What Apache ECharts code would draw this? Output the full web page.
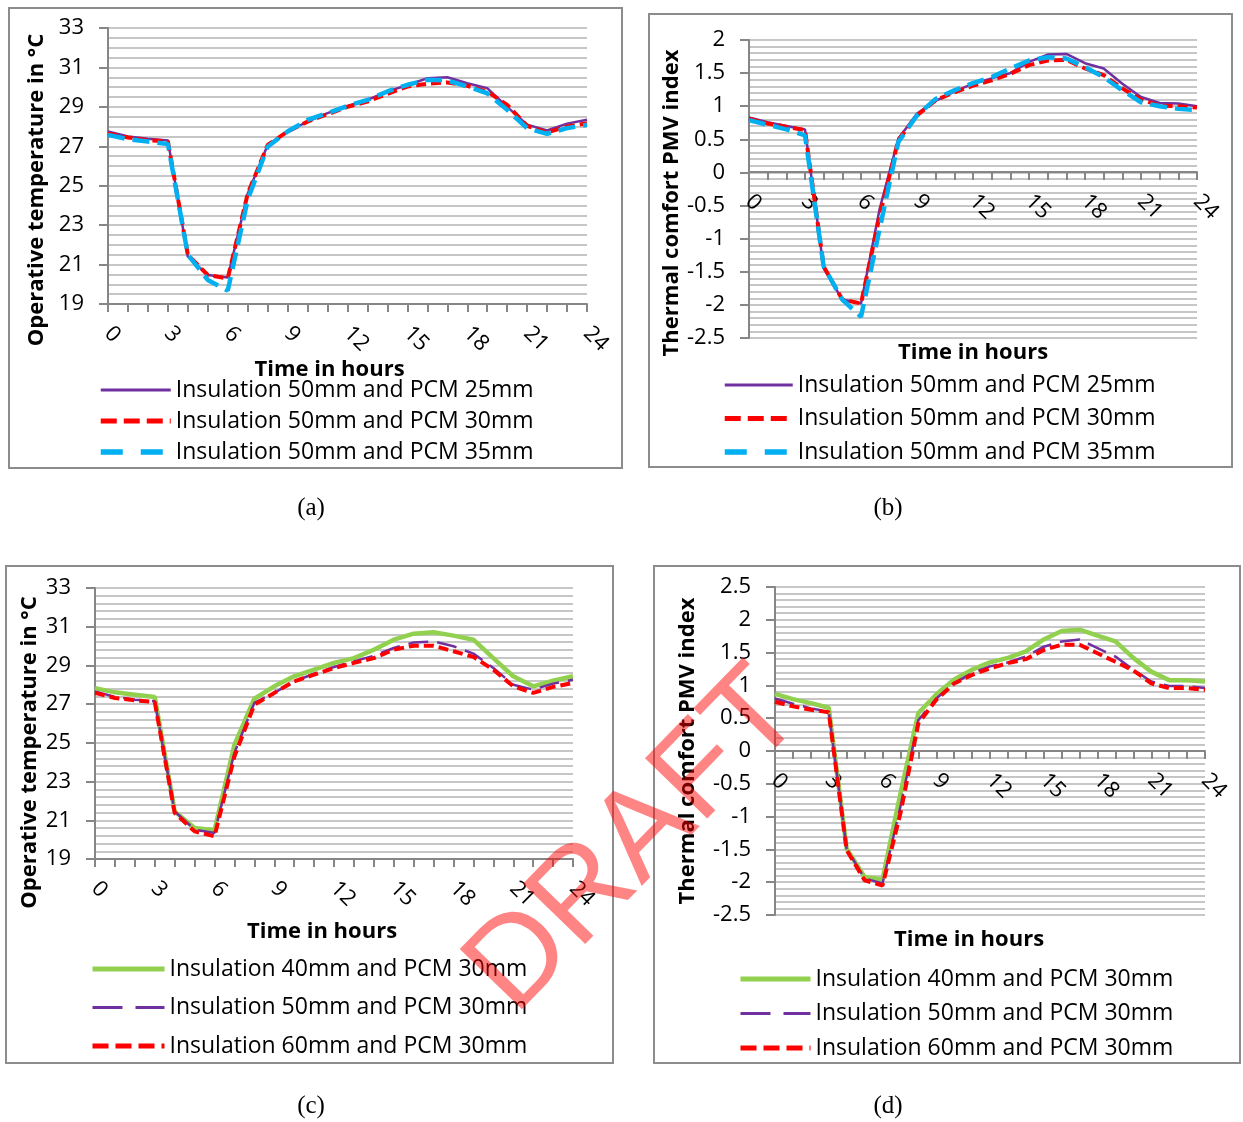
<!DOCTYPE html>
<html lang="en">
<head>
<meta charset="UTF-8">
<title>Operative temperature and PMV</title>
<script src="https://cdn.jsdelivr.net/npm/echarts@6/dist/echarts.min.js"></script>
<style>html,body{margin:0;background:#fff}</style>
</head>
<body>
<div id="main" style="width:1243px;height:1122px"></div>
<script>
// hours of the day
var hours = ['0','1','2','3','4','5','6','7','8','9','10','11','12','13','14','15','16','17','18','19','20','21','22','23','24']

// (a) operative temperature, insulation 50mm, PCM 25/30/35mm
var tempA25 = [27.75,27.5,27.38,27.3,21.4,20.47,20.35,24.6,27.07,27.75,28.25,28.68,29.05,29.35,29.78,30.1,30.45,30.5,30.2,29.95,29.0,28.1,27.8,28.15,28.35]
var tempA30 = [27.65,27.45,27.3,27.25,21.5,20.47,20.3,24.6,27.07,27.75,28.25,28.63,29.0,29.27,29.66,30.03,30.17,30.24,30.07,29.78,29.1,28.04,27.7,28.0,28.17]
var tempA35 = [27.58,27.36,27.24,27.12,21.5,20.22,19.68,24.3,26.98,27.75,28.34,28.68,29.05,29.35,29.78,30.12,30.37,30.34,30.03,29.69,28.85,27.92,27.63,27.92,28.09]

// (b) PMV, insulation 50mm, PCM 25/30/35mm
var pmvB25 = [0.83,0.76,0.70,0.65,-1.45,-1.92,-1.98,-0.55,0.51,0.89,1.08,1.22,1.34,1.42,1.50,1.67,1.78,1.79,1.65,1.57,1.34,1.14,1.05,1.04,1.0]
var pmvB30 = [0.81,0.74,0.69,0.64,-1.42,-1.92,-1.98,-0.65,0.49,0.86,1.09,1.21,1.31,1.39,1.49,1.62,1.69,1.70,1.57,1.47,1.27,1.10,1.01,1.00,0.98]
var pmvB35 = [0.79,0.72,0.65,0.56,-1.42,-1.92,-2.18,-0.85,0.46,0.86,1.11,1.24,1.35,1.44,1.57,1.69,1.74,1.72,1.59,1.44,1.24,1.06,1.00,0.96,0.94]

// (c) operative temperature, insulation 40/50/60mm, PCM 30mm
var tempC40 = [27.83,27.61,27.49,27.37,21.46,20.6,20.48,24.9,27.28,27.92,28.44,28.78,29.13,29.38,29.81,30.33,30.64,30.71,30.54,30.33,29.38,28.44,27.92,28.21,28.44]
var tempC50 = [27.66,27.37,27.23,27.15,21.46,20.52,20.34,24.48,27.06,27.58,28.18,28.57,28.92,29.21,29.5,29.9,30.19,30.24,29.99,29.61,28.87,28.0,27.75,28.06,28.26]
var tempC60 = [27.58,27.32,27.2,27.11,21.38,20.43,20.17,24.3,26.97,27.58,28.18,28.52,28.87,29.13,29.38,29.81,30.02,30.02,29.73,29.44,28.78,27.92,27.58,27.89,28.1]

// (d) PMV, insulation 40/50/60mm, PCM 30mm
var pmvD40 = [0.87,0.79,0.73,0.66,-1.49,-1.92,-1.96,-0.65,0.58,0.86,1.09,1.24,1.35,1.42,1.52,1.70,1.83,1.85,1.76,1.67,1.42,1.21,1.08,1.08,1.06]
var pmvD50 = [0.80,0.72,0.65,0.60,-1.49,-1.94,-2.02,-0.85,0.47,0.80,1.03,1.19,1.29,1.35,1.44,1.59,1.67,1.70,1.57,1.44,1.24,1.06,0.99,0.99,0.96]
var pmvD60 = [0.75,0.68,0.63,0.59,-1.51,-1.97,-2.05,-0.95,0.42,0.78,1.03,1.16,1.26,1.34,1.40,1.54,1.62,1.62,1.49,1.36,1.23,1.03,0.96,0.96,0.93]

var FONT = '"Open Sans", sans-serif'
var AXIS = '#868686'
var GRIDC = '#b4b4b4'

// line looks (plot, then legend sample)
var sPurple = { color: '#7030A0', width: 2.5, type: 'solid' }
var sRed = { color: '#FF0000', width: 4, type: [10, 5] }
var sBlue = { color: '#00B0F0', width: 4.5, type: [17, 8] }
var sGreen = { color: '#92D050', width: 4.5, type: 'solid' }
var sPurpleDash = { color: '#7030A0', width: 2.5, type: [20, 9] }
var lPurple = { color: '#7030A0', width: 3, type: 'solid' }
var lRed = { color: '#FF0000', width: 5, type: [16, 7] }
var lBlue = { color: '#00B0F0', width: 5.5, type: [22, 18] }
var lGreen = { color: '#92D050', width: 5, type: 'solid' }
var lPurpleDash = { color: '#7030A0', width: 3, type: [30, 13] }
var noDot = { color: 'rgba(0,0,0,0)', borderColor: 'rgba(0,0,0,0)', borderWidth: 0 }

var grids = [], xAxes = [], yAxes = [], series = [], legends = []

// p: grid box, x axis offset, name gaps and shifts
function addPanel(i, p, y, lines, leg) {
    grids.push({ left: p.g[0], top: p.g[1], width: p.g[2] - p.g[0], height: p.g[3] - p.g[1] })
    xAxes.push({
        gridIndex: i, type: 'category', data: hours, boundaryGap: false, offset: p.off,
        name: 'Time in hours', nameLocation: 'middle', nameGap: p.xGap,
        nameTextStyle: { fontFamily: FONT, fontSize: 22, fontWeight: 'bold', color: '#000', padding: [0, p.xShift, 0, 0] },
        axisLine: { onZero: false, lineStyle: { color: AXIS, width: 2 } },
        axisTick: { interval: 0, length: 8, lineStyle: { color: AXIS, width: 2 } },
        axisLabel: { interval: 2, rotate: -45, margin: 26, fontFamily: FONT, fontSize: 22, color: '#000' },
        splitLine: { show: false }
    })
    yAxes.push({
        gridIndex: i, type: 'value', min: y.min, max: y.max, interval: y.step,
        name: y.name, nameLocation: 'middle', nameRotate: 90, nameGap: p.yGap,
        nameTextStyle: { fontFamily: FONT, fontSize: 22, fontWeight: 'bold', color: '#000', padding: [0, p.yShift, 0, 0] },
        axisLine: { show: true, lineStyle: { color: AXIS, width: 2 } },
        axisTick: { show: true, length: 9, lineStyle: { color: AXIS, width: 2 } },
        axisLabel: { margin: 24, fontFamily: FONT, fontSize: 22, color: '#000' },
        minorTick: { show: false, splitNumber: y.minor },
        splitLine: { show: true, lineStyle: { color: GRIDC, width: 1.5 } },
        minorSplitLine: { show: true, lineStyle: { color: GRIDC, width: 1.5 } }
    })
    var legData = []
    lines.forEach(function (l) {
        series.push({
            name: l.name, type: 'line', xAxisIndex: i, yAxisIndex: i,
            data: l.data, showSymbol: false, symbol: 'none',
            lineStyle: l.style, itemStyle: { color: l.style.color }
        })
        legData.push({ name: l.name, lineStyle: l.key, itemStyle: noDot })
    })
    legends.push({
        data: legData, orient: 'vertical', left: leg[0], top: leg[1], padding: 0,
        itemWidth: leg[2], itemHeight: 14, itemGap: leg[3],
        textStyle: { fontFamily: FONT, fontSize: 23, color: '#000', lineHeight: 24 }
    })
}

addPanel(0, { g: [108, 28, 587, 304], off: 0, xGap: 51, xShift: 36, yGap: 60, yShift: 48 },
    { min: 19, max: 33, step: 2, minor: 4, name: 'Operative temperature in °C' },
    [{ name: 'Insulation 50mm and PCM 25mm', data: tempA25, style: sPurple, key: lPurple },
     { name: 'Insulation 50mm and PCM 30mm', data: tempA30, style: sRed, key: lRed },
     { name: 'Insulation 50mm and PCM 35mm', data: tempA35, style: sBlue, key: lBlue }],
    [98, 378, 70, 7])

addPanel(1, { g: [749, 40, 1197, 338], off: -166, xGap: 170, xShift: 0, yGap: 64, yShift: 28 },
    { min: -2.5, max: 2, step: 0.5, minor: 5, name: 'Thermal comfort PMV index' },
    [{ name: 'Insulation 50mm and PCM 25mm', data: pmvB25, style: sPurple, key: lPurple },
     { name: 'Insulation 50mm and PCM 30mm', data: pmvB30, style: sRed, key: lRed },
     { name: 'Insulation 50mm and PCM 35mm', data: pmvB35, style: sBlue, key: lBlue }],
    [722, 373, 68, 9.5])

addPanel(2, { g: [95, 588, 573, 859], off: 0, xGap: 62, xShift: 24, yGap: 54, yShift: 58 },
    { min: 19, max: 33, step: 2, minor: 5, name: 'Operative temperature in °C' },
    [{ name: 'Insulation 40mm and PCM 30mm', data: tempC40, style: sGreen, key: lGreen },
     { name: 'Insulation 50mm and PCM 30mm', data: tempC50, style: sPurpleDash, key: lPurpleDash },
     { name: 'Insulation 60mm and PCM 30mm', data: tempC60, style: sRed, key: lRed }],
    [90, 957, 72, 14.5])

addPanel(3, { g: [775, 587, 1205, 915], off: -164, xGap: 178, xShift: 42, yGap: 76, yShift: 0 },
    { min: -2.5, max: 2.5, step: 0.5, minor: 5, name: 'Thermal comfort PMV index' },
    [{ name: 'Insulation 40mm and PCM 30mm', data: pmvD40, style: sGreen, key: lGreen },
     { name: 'Insulation 50mm and PCM 30mm', data: pmvD50, style: sPurpleDash, key: lPurpleDash },
     { name: 'Insulation 60mm and PCM 30mm', data: pmvD60, style: sRed, key: lRed }],
    [738, 967, 70, 10.5])

function box(x1, y1, x2, y2) {
    return { type: 'rect', silent: true, z: 0, shape: { x: x1, y: y1, width: x2 - x1, height: y2 - y1 },
        style: { fill: null, stroke: '#8c8c8c', lineWidth: 2 } }
}
function caption(t, x, y) {
    return { type: 'text', x: x, y: y, style: { text: t, fontFamily: '"Liberation Serif", serif', fontSize: 25,
        fill: '#000', align: 'center', verticalAlign: 'middle' } }
}

var mChart = echarts.init(document.getElementById('main'))
mChart.setOption({
    animation: false,
    backgroundColor: '#fff',
    grid: grids, xAxis: xAxes, yAxis: yAxes, series: series, legend: legends,
    graphic: [
        box(9, 8, 622, 468), box(649, 14, 1232, 467), box(6, 566, 613, 1063), box(654, 566, 1240, 1063),
        caption('(a)', 311, 508), caption('(b)', 888, 508), caption('(c)', 311, 1106), caption('(d)', 888, 1106),
        { type: 'text', x: 636, y: 842, rotation: 0.8, z: 100,
          style: { text: 'DRAFT', fontFamily: '"Liberation Sans", sans-serif', fontSize: 126,
            fill: 'rgba(255,0,0,0.48)', align: 'center', verticalAlign: 'middle' } }
    ]
})
</script>
</body>
</html>
